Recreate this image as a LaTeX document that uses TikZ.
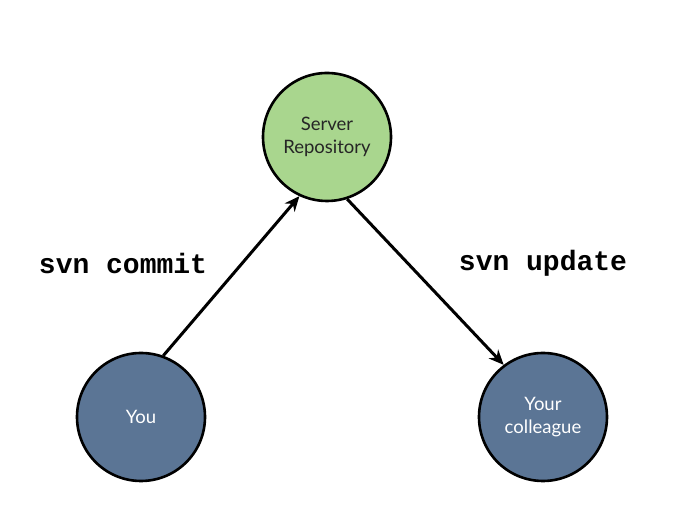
\documentclass[tikz,border=0pt]{standalone}
\usepackage{fontspec}
\setmainfont{Lato}
\newfontfamily\codefont{Liberation Mono}
\usetikzlibrary{arrows.meta}
\definecolor{servergreen}{HTML}{A9D68E}
\definecolor{userblue}{HTML}{5B7595}
\tikzset{
  circnode/.style={circle, draw=black, line width=2.6pt, minimum size=128pt, inner sep=0pt, align=center, font=\fontsize{18.5}{23}\selectfont},
  servernode/.style={circnode, fill=servergreen, text=black!85},
  usernode/.style={circnode, fill=userblue, text=white},
  conn/.style={line width=3pt, -{Stealth[length=15pt,width=13pt]}},
  cmdlabel/.style={font=\codefont\bfseries\fontsize{28}{30}\selectfont}
}
\begin{document}
\begin{tikzpicture}[x=1pt,y=1pt]
\useasboundingbox (0,0) rectangle (675,524);
\node[servernode] (server) at (327,387) {Server\\Repository};
\node[usernode] (you) at (141,107) {You};
\node[usernode] (colleague) at (543,107) {Your\\colleague};
\draw[conn] (you.70) -- (server.245);
\draw[conn] (server.-72) -- (colleague.127);
\node[cmdlabel] (commit) at (123,261) {svn commit};
\node[cmdlabel] (update) at (543,261) {svn update};
\end{tikzpicture}
\end{document}
